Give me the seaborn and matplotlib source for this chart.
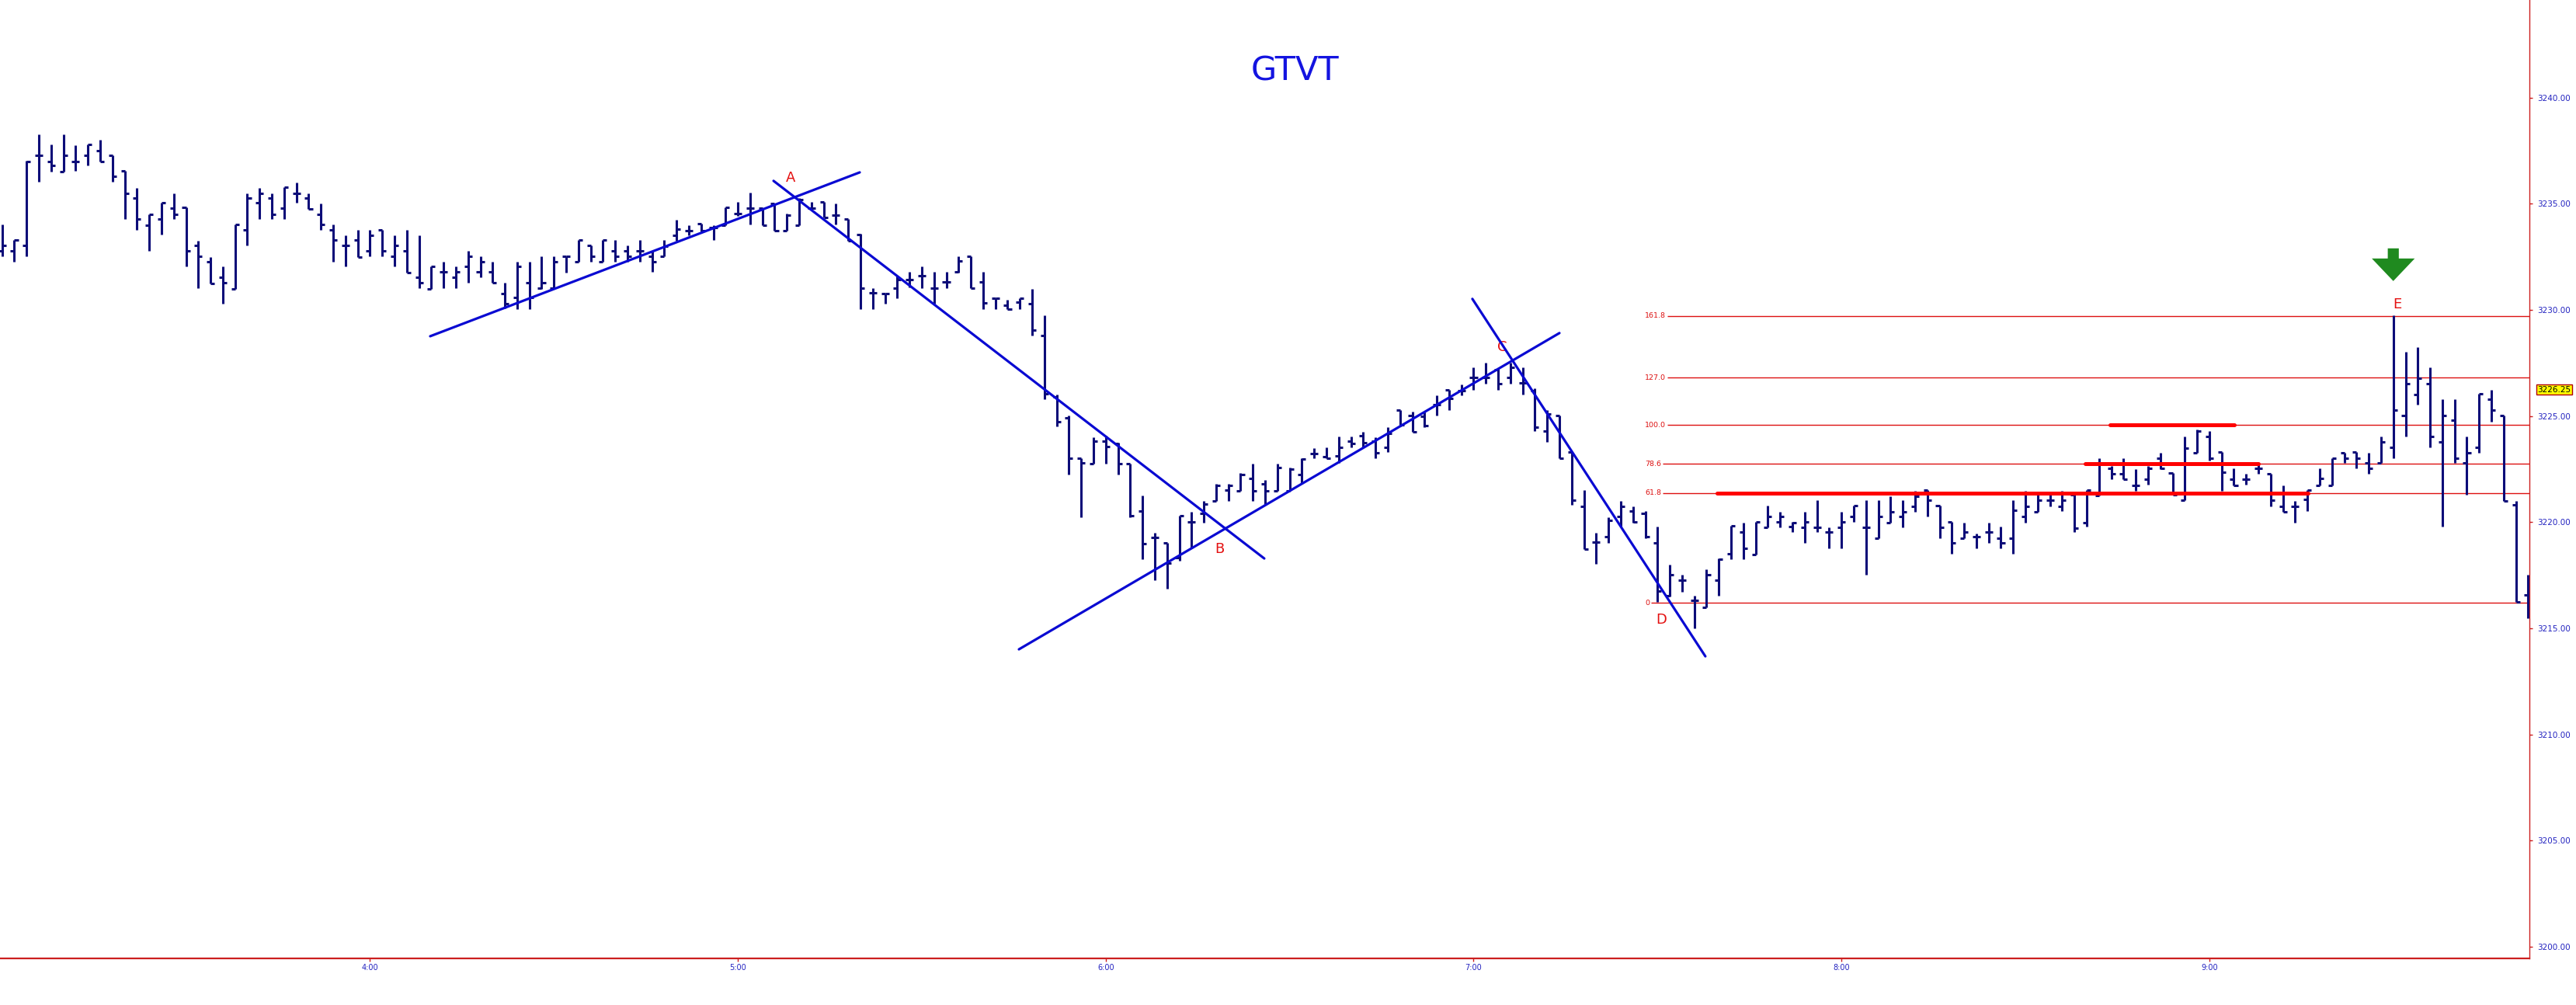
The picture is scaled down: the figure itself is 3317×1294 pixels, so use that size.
import numpy as np
import pandas as pd
import matplotlib
matplotlib.use("Agg")
import matplotlib.pyplot as plt
import seaborn as sns
from matplotlib.transforms import blended_transform_factory

# ---------------- data ----------------
title = "GTVT"
start_minute = 180          # first bar at 3:00
bar_minutes = 2
time_labels = ["4:00", "5:00", "6:00", "7:00", "8:00", "9:00"]
price_ticks = [3200, 3205, 3210, 3215, 3220, 3225, 3230, 3235, 3240]

opens = [3232.79, 3232.77, 3233.04, 3237.28, 3237.00, 3236.52, 3237.00, 3237.28, 3237.52, 3237.28,
         3236.55, 3235.26, 3234.00, 3234.28, 3234.80, 3234.82, 3233.04, 3232.26, 3231.52, 3231.00,
         3233.77, 3235.06, 3235.26, 3234.80, 3235.50, 3235.26, 3234.50, 3233.77, 3233.04, 3233.28,
         3232.77, 3233.77, 3232.52, 3232.77, 3231.55, 3231.00, 3231.79, 3231.55, 3232.06, 3231.79,
         3231.79, 3230.76, 3230.57, 3231.30, 3231.04, 3231.04, 3232.52, 3232.26, 3233.04, 3232.26,
         3232.77, 3232.77, 3232.77, 3232.52, 3232.52, 3233.50, 3233.75, 3234.06, 3233.87, 3234.00,
         3234.54, 3234.79, 3234.79, 3235.03, 3233.75, 3234.00, 3234.79, 3235.09, 3234.48, 3234.30,
         3233.55, 3230.82, 3230.76, 3231.01, 3231.43, 3231.62, 3231.01, 3231.31, 3231.78, 3232.53,
         3231.31, 3230.55, 3230.22, 3230.35, 3230.29, 3228.78, 3225.90, 3224.93, 3223.00, 3222.77,
         3223.82, 3223.69, 3222.77, 3220.52, 3219.27, 3219.04, 3218.33, 3220.03, 3220.42, 3221.00,
         3221.53, 3221.46, 3222.05, 3221.79, 3221.46, 3221.46, 3222.25, 3223.23, 3223.10, 3223.14,
         3223.81, 3224.09, 3223.81, 3223.51, 3225.28, 3225.03, 3225.00, 3225.52, 3226.25, 3226.19,
         3226.80, 3226.80, 3227.17, 3226.80, 3226.56, 3226.19, 3224.30, 3225.03, 3223.29, 3220.76,
         3219.06, 3219.30, 3220.28, 3220.52, 3220.40, 3219.02, 3216.55, 3217.26, 3216.30, 3216.00,
         3217.26, 3218.50, 3219.54, 3218.48, 3219.77, 3220.01, 3219.78, 3219.77, 3219.77, 3219.54,
         3219.77, 3220.26, 3219.77, 3219.26, 3219.99, 3220.26, 3220.74, 3221.52, 3220.79, 3220.02,
         3219.26, 3219.30, 3219.54, 3219.26, 3219.26, 3220.27, 3220.48, 3221.04, 3220.76, 3221.29,
         3219.99, 3221.25, 3222.53, 3222.29, 3221.74, 3222.04, 3223.02, 3222.31, 3221.04, 3223.26,
         3224.05, 3223.29, 3222.04, 3222.04, 3222.53, 3222.29, 3220.76, 3220.76, 3221.07, 3221.74,
         3221.74, 3223.26, 3223.29, 3222.80, 3222.78, 3223.53, 3225.03, 3226.01, 3226.53, 3223.78,
         3224.79, 3222.80, 3223.53, 3225.80, 3225.03, 3220.80, 3216.56]
highs = [3234.01, 3233.30, 3237.04, 3238.28, 3237.79, 3238.28, 3237.77, 3237.79, 3238.00, 3237.28,
         3236.55, 3235.76, 3234.50, 3235.06, 3235.50, 3234.82, 3233.26, 3232.50, 3232.04, 3234.04,
         3235.50, 3235.76, 3235.50, 3235.79, 3236.00, 3235.50, 3235.02, 3234.01, 3233.52, 3233.77,
         3233.77, 3233.77, 3233.52, 3233.77, 3233.52, 3232.06, 3232.26, 3232.04, 3232.77, 3232.52,
         3232.26, 3231.28, 3232.26, 3232.28, 3232.52, 3232.52, 3232.52, 3233.28, 3233.04, 3233.28,
         3233.28, 3233.04, 3233.28, 3232.77, 3233.28, 3234.26, 3234.00, 3234.06, 3234.00, 3234.82,
         3235.09, 3235.52, 3234.79, 3235.03, 3234.54, 3235.28, 3235.09, 3235.09, 3235.03, 3234.30,
         3233.57, 3231.04, 3230.76, 3231.62, 3231.80, 3232.04, 3231.80, 3231.80, 3232.53, 3232.53,
         3231.80, 3230.55, 3230.48, 3230.55, 3231.00, 3229.76, 3226.01, 3225.02, 3223.03, 3224.01,
         3224.08, 3223.75, 3222.77, 3221.27, 3219.50, 3219.04, 3220.29, 3220.48, 3221.00, 3221.79,
         3221.79, 3222.31, 3222.77, 3221.99, 3222.77, 3222.57, 3223.03, 3223.49, 3223.51, 3224.02,
         3224.02, 3224.26, 3223.99, 3224.48, 3225.28, 3225.21, 3225.21, 3225.97, 3226.25, 3226.50,
         3227.29, 3227.51, 3227.26, 3227.51, 3227.29, 3226.29, 3225.28, 3225.03, 3223.29, 3221.50,
         3219.51, 3220.24, 3221.01, 3220.76, 3220.52, 3219.79, 3218.01, 3217.52, 3216.52, 3217.77,
         3218.28, 3219.82, 3219.99, 3220.02, 3220.79, 3220.50, 3220.02, 3220.50, 3221.04, 3219.77,
         3220.50, 3220.79, 3221.04, 3221.04, 3221.23, 3221.04, 3221.48, 3221.52, 3220.79, 3220.02,
         3219.99, 3219.48, 3219.99, 3219.79, 3221.04, 3221.49, 3221.29, 3221.29, 3221.49, 3221.29,
         3221.53, 3223.02, 3222.65, 3223.02, 3222.50, 3222.65, 3223.26, 3222.31, 3224.02, 3224.38,
         3224.30, 3223.29, 3222.53, 3222.29, 3222.75, 3222.29, 3221.74, 3221.00, 3221.53, 3222.53,
         3223.02, 3223.26, 3223.29, 3223.26, 3224.02, 3229.75, 3228.02, 3228.26, 3227.29, 3225.80,
         3225.80, 3224.02, 3226.04, 3226.25, 3225.03, 3221.01, 3217.53]
lows = [3232.53, 3232.26, 3232.52, 3236.04, 3236.52, 3236.52, 3236.55, 3236.82, 3236.98, 3236.04,
        3234.28, 3233.77, 3232.77, 3233.55, 3234.28, 3232.04, 3231.04, 3231.24, 3230.30, 3231.00,
        3233.04, 3234.28, 3234.28, 3234.28, 3235.06, 3234.74, 3233.77, 3232.26, 3232.04, 3232.50,
        3232.52, 3232.52, 3232.04, 3231.77, 3231.04, 3231.00, 3231.04, 3231.04, 3231.28, 3231.52,
        3231.28, 3230.06, 3230.02, 3230.02, 3231.00, 3231.00, 3231.77, 3232.26, 3232.26, 3232.26,
        3232.26, 3232.26, 3232.26, 3231.79, 3232.52, 3233.26, 3233.50, 3233.69, 3233.29, 3234.00,
        3234.42, 3234.02, 3234.00, 3233.75, 3233.75, 3234.00, 3234.73, 3234.36, 3234.02, 3233.26,
        3230.03, 3230.03, 3230.28, 3230.56, 3231.07, 3231.01, 3230.28, 3231.01, 3231.74, 3231.01,
        3230.03, 3230.03, 3230.03, 3230.03, 3228.78, 3225.78, 3224.50, 3222.25, 3220.22, 3222.77,
        3222.77, 3222.25, 3220.22, 3218.26, 3217.28, 3216.85, 3218.20, 3218.78, 3219.96, 3221.00,
        3221.00, 3221.46, 3221.00, 3220.81, 3221.46, 3221.46, 3221.79, 3223.03, 3223.02, 3222.78,
        3223.51, 3223.51, 3223.02, 3223.29, 3224.51, 3224.26, 3224.48, 3225.03, 3225.28, 3225.97,
        3226.25, 3226.53, 3226.25, 3226.53, 3226.01, 3224.30, 3223.78, 3223.02, 3220.82, 3218.75,
        3218.04, 3219.02, 3219.79, 3219.99, 3219.24, 3216.26, 3216.49, 3216.73, 3215.00, 3216.00,
        3216.52, 3218.26, 3218.26, 3218.48, 3219.77, 3219.77, 3219.54, 3219.01, 3219.54, 3218.77,
        3218.77, 3220.01, 3217.52, 3219.26, 3219.99, 3219.77, 3220.50, 3220.26, 3219.26, 3218.50,
        3219.26, 3218.77, 3219.02, 3218.77, 3218.50, 3219.99, 3220.48, 3220.76, 3220.52, 3219.54,
        3219.79, 3221.25, 3222.02, 3222.02, 3221.49, 3221.77, 3222.50, 3221.29, 3221.04, 3223.26,
        3222.90, 3221.49, 3221.74, 3221.77, 3222.29, 3220.76, 3220.48, 3219.99, 3220.52, 3221.74,
        3221.74, 3222.80, 3222.53, 3222.29, 3222.78, 3223.00, 3224.02, 3225.52, 3223.51, 3219.79,
        3222.80, 3221.29, 3223.26, 3224.75, 3221.01, 3216.25, 3215.46]
closes = [3233.04, 3233.28, 3237.00, 3237.28, 3236.80, 3237.28, 3237.00, 3237.79, 3236.98, 3236.28,
          3235.50, 3234.28, 3234.50, 3235.06, 3234.50, 3232.77, 3232.52, 3231.24, 3231.28, 3234.04,
          3235.26, 3235.50, 3234.50, 3235.79, 3235.50, 3234.74, 3234.01, 3233.28, 3233.04, 3232.50,
          3233.52, 3232.77, 3233.04, 3231.77, 3231.30, 3232.06, 3231.79, 3231.79, 3232.52, 3232.26,
          3231.28, 3230.30, 3232.06, 3230.57, 3231.30, 3232.28, 3232.52, 3233.28, 3232.52, 3233.28,
          3232.52, 3232.52, 3232.77, 3232.26, 3233.00, 3233.80, 3233.75, 3233.75, 3233.87, 3234.82,
          3234.54, 3234.79, 3234.00, 3233.75, 3234.48, 3235.21, 3234.79, 3234.36, 3234.48, 3233.26,
          3231.01, 3230.82, 3230.76, 3231.43, 3231.43, 3231.62, 3231.01, 3231.31, 3232.29, 3231.01,
          3230.34, 3230.55, 3230.03, 3230.55, 3229.04, 3226.04, 3224.73, 3223.00, 3222.80, 3223.82,
          3223.56, 3222.77, 3220.29, 3218.98, 3219.27, 3218.06, 3220.29, 3220.03, 3220.87, 3221.72,
          3221.72, 3222.25, 3221.46, 3221.46, 3222.57, 3222.51, 3222.97, 3223.23, 3223.02, 3223.51,
          3223.69, 3223.75, 3223.26, 3224.18, 3224.60, 3224.26, 3224.55, 3225.52, 3225.82, 3226.19,
          3226.80, 3226.80, 3226.53, 3227.29, 3226.56, 3224.48, 3225.09, 3223.02, 3221.04, 3218.75,
          3219.06, 3220.09, 3220.76, 3220.03, 3219.30, 3216.74, 3217.52, 3217.26, 3216.30, 3217.53,
          3218.26, 3219.82, 3218.77, 3220.02, 3220.26, 3220.26, 3219.96, 3220.01, 3219.77, 3219.54,
          3220.01, 3220.79, 3219.77, 3220.26, 3220.50, 3220.50, 3221.23, 3221.04, 3219.77, 3219.01,
          3219.54, 3219.30, 3219.54, 3219.02, 3220.55, 3220.76, 3221.04, 3221.04, 3221.04, 3219.72,
          3221.53, 3222.77, 3222.29, 3222.02, 3221.74, 3222.53, 3222.53, 3221.29, 3223.50, 3224.30,
          3223.02, 3222.35, 3221.74, 3222.04, 3222.53, 3221.04, 3220.48, 3220.76, 3221.50, 3222.07,
          3223.02, 3223.02, 3223.02, 3222.53, 3223.78, 3225.28, 3226.53, 3226.78, 3224.02, 3225.03,
          3223.02, 3223.26, 3226.04, 3225.28, 3221.01, 3216.25, 3216.00]

# trend lines: (bar index, price) end points
trend_x = [[34.91, 69.94], [62.91, 102.93], [82.92, 127.00], [119.90, 138.90]]
trend_y = [[3228.76, 3236.48], [3236.08, 3218.29], [3214.01, 3228.91], [3230.52, 3213.68]]

# Fibonacci levels
fib_labels = ["161.8", "127.0", "100.0", "78.6", "61.8", "0"]
fib_prices = [3229.72, 3226.80, 3224.58, 3222.75, 3221.37, 3216.20]
fib_label_x = 133.97

# thick red support / resistance segments
sr_prices = [3221.37, 3222.75, 3224.58]
sr_start = [139.85, 169.87, 171.90]
sr_end = [188.05, 184.00, 182.03]

# wave labels
wave_labels = ["A", "B", "C", "D", "E"]
wave_x = [64.3, 99.3, 122.3, 135.3, 195.3]
wave_y = [3236.22, 3218.73, 3228.24, 3215.40, 3230.26]

# green arrow above E
arrow_x = 195.0
arrow_top = 3232.90
arrow_tip = 3231.36

last_price = 3226.25

# ---------------- figure ----------------
sns.set_theme(style="white")
plt.rcParams["font.family"] = ["DejaVu Sans"]

W, H, DPI = 3317, 1294, 100
fig = plt.figure(figsize=(W / DPI, H / DPI), dpi=DPI, facecolor="white")
ax_left_px, ax_right_px, ax_bottom_px = 0, 3257, 1234
ax = fig.add_axes([ax_left_px / W, (H - ax_bottom_px) / H,
                   (ax_right_px - ax_left_px) / W, ax_bottom_px / H])
ax.set_facecolor("white")

n = len(opens)
x = np.arange(n)
bar_color = "#0c0c78"
tick_len = 0.32
ax.vlines(x, lows, highs, color=bar_color, lw=2.2, zorder=3)
ax.hlines(opens, x - tick_len, x, color=bar_color, lw=2.2, zorder=3)
ax.hlines(closes, x, x + tick_len, color=bar_color, lw=2.2, zorder=3)

xmin, xmax = -0.171, 206.1
ymin, ymax = 3199.45, 3244.60
ax.set_xlim(xmin, xmax)
ax.set_ylim(ymin, ymax)

# trend lines with seaborn
rows = []
for i, (xs, ys) in enumerate(zip(trend_x, trend_y)):
    for xx, yy in zip(xs, ys):
        rows.append({"x": xx, "y": yy, "line": i})
tdf = pd.DataFrame(rows)
sns.lineplot(data=tdf, x="x", y="y", units="line", estimator=None, sort=False,
             color="#0a0ad2", lw=2.3, ax=ax, legend=False, zorder=4)
ax.set_xlabel("")
ax.set_ylabel("")

# fib labels and lines
fib_texts = []
for lab, pr in zip(fib_labels, fib_prices):
    t = ax.text(fib_label_x, pr, lab, color="#dd1111", fontsize=6.8,
                ha="left", va="center", zorder=5)
    fib_texts.append(t)
fig.canvas.draw()
renderer = fig.canvas.get_renderer()
inv = ax.transData.inverted()
for t, pr in zip(fib_texts, fib_prices):
    bb = t.get_window_extent(renderer)
    x_end = inv.transform((bb.x1 + 2, 0))[0]
    ax.hlines(pr, x_end, xmax, color="#dd1111", lw=1.0, zorder=2)

# thick support / resistance
for pr, s, e in zip(sr_prices, sr_start, sr_end):
    ax.plot([s, e], [pr, pr], color="#ff0000", lw=3.6, solid_capstyle="round", zorder=4)

# wave labels
for lab, wx, wy in zip(wave_labels, wave_x, wave_y):
    ax.text(wx, wy, lab, color="#e41010", fontsize=13, ha="center", va="center", zorder=3)

# green arrow
sw, hw = 0.45, 1.75
head_base = arrow_tip + (arrow_top - arrow_tip) * 0.69
ax.fill([arrow_x - sw, arrow_x + sw, arrow_x + sw, arrow_x + hw, arrow_x, arrow_x - hw, arrow_x - sw],
        [arrow_top, arrow_top, head_base, head_base, arrow_tip, head_base, head_base],
        color="#1f8a1f", lw=0, zorder=5)

# title
fig.text(1667 / W, 1 - 91 / H, title, color="#1414e0", fontsize=31, ha="center", va="center")

# axes styling
for side in ["left", "top"]:
    ax.spines[side].set_visible(False)
ax.spines["right"].set_color("#cc1f1f")
ax.spines["right"].set_linewidth(1.0)
ax.spines["bottom"].set_color("#cc1f1f")
ax.spines["bottom"].set_linewidth(1.6)
ax.yaxis.tick_right()
ax.set_yticks(price_ticks)
ax.set_yticklabels([f"{p:.2f}" for p in price_ticks])
ax.tick_params(axis="y", colors="#cc1f1f", labelcolor="#2323c0", labelsize=7.5,
               length=3, width=1, pad=4, right=True, left=False)
tick_pos = []
for lab in time_labels:
    hh, mm = lab.split(":")
    tick_pos.append((int(hh) * 60 + int(mm) - start_minute) / bar_minutes)
ax.set_xticks(tick_pos)
ax.set_xticklabels(time_labels)
ax.tick_params(axis="x", colors="#cc1f1f", labelcolor="#2323c0", labelsize=7,
               length=3, width=1, pad=2, bottom=True)
ax.grid(False)

# last price tag
trans = blended_transform_factory(ax.transAxes, ax.transData)
ax.text(1.0032, last_price, f"{last_price:.2f}", transform=trans, fontsize=7.5,
        color="black", ha="left", va="center", clip_on=False,
        bbox=dict(boxstyle="square,pad=0.18", fc="#ffff00", ec="#b00000", lw=1))

fig.savefig("out.png", dpi=DPI, facecolor="white")
